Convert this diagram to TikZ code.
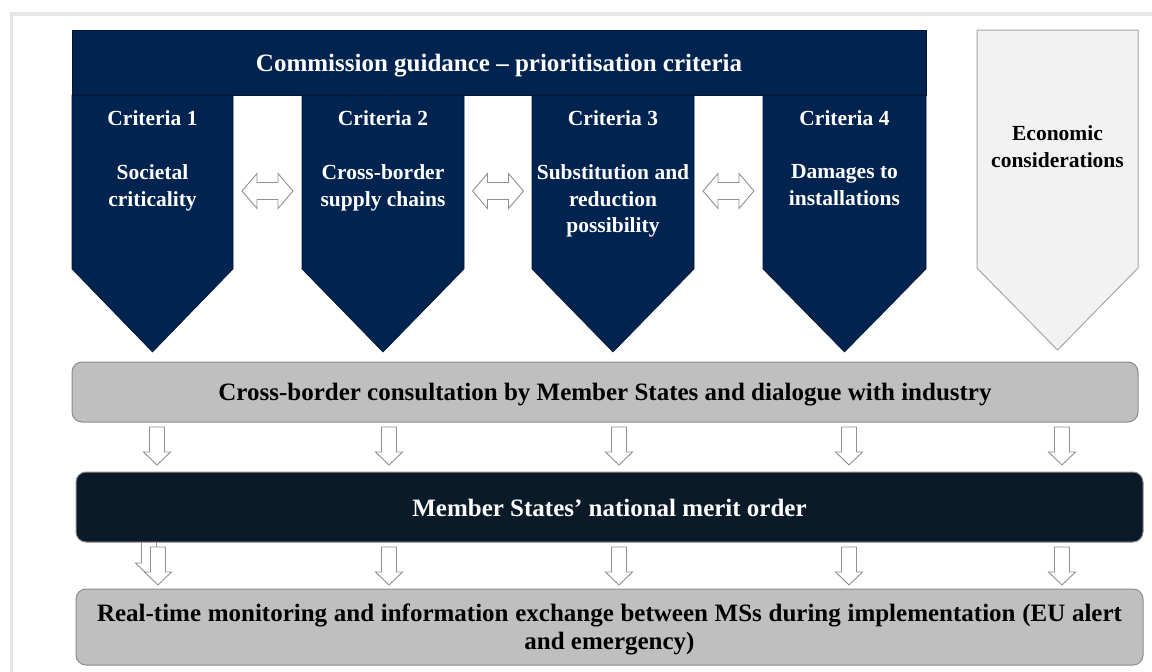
\documentclass[tikz,border=0pt]{standalone}
\usepackage{fontspec}
\setmainfont{Liberation Serif}
\definecolor{navyfill}{HTML}{00234F}
\definecolor{navyline}{HTML}{001733}
\definecolor{nightfill}{HTML}{0A1A29}
\definecolor{barfill}{HTML}{BFBFBF}
\definecolor{barline}{HTML}{8C8C8C}
\definecolor{econfill}{HTML}{F2F2F2}
\definecolor{econline}{HTML}{A6A6A6}
\definecolor{framegray}{HTML}{E6E6E6}
\definecolor{arrowline}{HTML}{8F8F8F}
\begin{document}
\begin{tikzpicture}[x=1pt,y=-1pt,
  navyshape/.style={fill=navyfill,draw=navyline,line width=0.6pt},
  econshape/.style={fill=econfill,draw=econline,line width=1pt},
  greybar/.style={fill=barfill,draw=barline,line width=1pt,rounded corners=10pt},
  darkbar/.style={fill=nightfill,draw=barline,line width=1pt,rounded corners=10pt},
  hollow/.style={fill=white,draw=arrowline,line width=0.9pt,line join=miter},
  whitetext/.style={text=white,font=\bfseries\fontsize{21.5}{26.5}\selectfont,align=center,inner sep=0pt},
  blacktext/.style={text=black,font=\bfseries\fontsize{21.5}{26.5}\selectfont,align=center,inner sep=0pt},
  bigfont/.style={font=\bfseries\fontsize{25}{28}\selectfont},
  downblock/.pic={\path[hollow] (-7.5,0) -- (7.5,0) -- (7.5,25) -- (13.5,25) -- (0,38) -- (-13.5,25) -- (-7.5,25) -- cycle;},
  twinblock/.pic={\path[hollow] (-25.5,0) -- (-10.5,-17.5) -- (-10.5,-8.5) -- (10.5,-8.5) -- (10.5,-17.5) -- (25.5,0) -- (10.5,17.5) -- (10.5,8.5) -- (-10.5,8.5) -- (-10.5,17.5) -- cycle;}
]
\useasboundingbox (0,0) rectangle (1152,672);
\fill[white] (0,0) rectangle (1152,672);
% page frame
\begin{scope}
\clip (0,0) rectangle (1152,672);
\draw[framegray,line width=3.5pt] (11.5,14) rectangle (1170,700);
\end{scope}

% guidance banner and the four criteria columns
\path[navyshape] (72,30) rectangle (926,95);
\path[navyshape] (72,95) -- (233,95) -- (233,269) -- (152.5,352) -- (72,269) -- cycle;
\path[navyshape] (302,95) -- (464,95) -- (464,269) -- (383,352) -- (302,269) -- cycle;
\path[navyshape] (532,95) -- (694,95) -- (694,269) -- (613,352) -- (532,269) -- cycle;
\path[navyshape] (763,95) -- (926,95) -- (926,269) -- (844.5,352) -- (763,269) -- cycle;
\draw[navyline,line width=1pt] (72,95) -- (926,95);

% economic considerations column
\path[econshape] (977,30) -- (1138,30) -- (1138,268) -- (1057.5,350) -- (977,268) -- cycle;

\node[whitetext,bigfont] (title) at (499,66) {Commission guidance -- prioritisation criteria};

\node[whitetext] (c1) at (152.5,118) {Criteria 1};
\node[whitetext] (c2) at (383,118) {Criteria 2};
\node[whitetext] (c3) at (613,118) {Criteria 3};
\node[whitetext] (c4) at (844.5,118) {Criteria 4};

\node[whitetext,anchor=north] (d1) at (152.5,164.5) {Societal\\criticality};
\node[whitetext,anchor=north] (d2) at (383,164.5) {Cross-border\\supply chains};
\node[whitetext,anchor=north] (d3) at (613,164.5) {Substitution and\\reduction\\possibility};
\node[whitetext,anchor=north] (d4) at (844.5,164.5) {Damages to\\installations};
\node[blacktext,anchor=north] (econ) at (1057.5,125.5) {Economic\\considerations};

% links between neighbouring criteria
\pic (t12) at (267.5,191) {twinblock};
\pic (t23) at (498,191) {twinblock};
\pic (t34) at (728.5,191) {twinblock};

% consultation bar
\path[greybar] (72,362) rectangle (1138,422);
\node[blacktext,bigfont] (consult) at (605,395) {Cross-border consultation by Member States and dialogue with industry};

% arrows into the merit order
\foreach \cx in {157,389,619,849,1062} \pic at (\cx,427) {downblock};

% arrows into the monitoring bar (the first one is doubled)
\pic at (149,538) {downblock};
\path[darkbar] (76,472) rectangle (1143,542);
\node[whitetext,bigfont] (merit) at (609.5,508) {Member States’ national merit order};
\foreach \cx in {158,389,619,849,1062} \pic at (\cx,547) {downblock};

% monitoring bar
\path[greybar] (76,589) rectangle (1143,665);
\node[blacktext,bigfont] (monitor) at (609.5,629) {\makebox[1025pt][s]{Real-time monitoring and information exchange between MSs during implementation (EU alert}\\and emergency)};
\end{tikzpicture}
\end{document}
